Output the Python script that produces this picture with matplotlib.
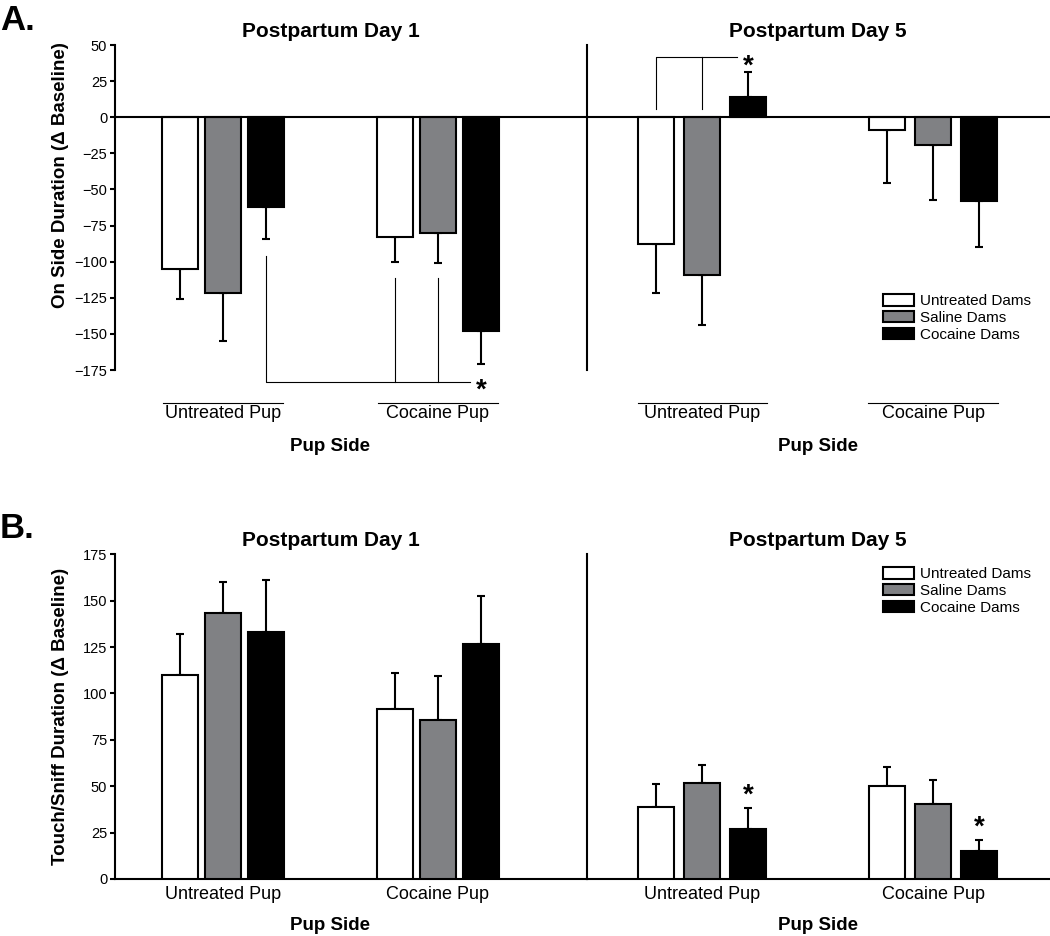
import numpy as np
import matplotlib.pyplot as plt

plt.rcParams['font.family'] = ['Liberation Sans', 'DejaVu Sans']

groups = ['Untreated Pup', 'Cocaine Pup']
dams = ['Untreated Dams', 'Saline Dams', 'Cocaine Dams']
colors = ['white', '#808184', 'black']

# rows = dam group, columns = pup side (untreated, cocaine); mean and SEM
onside_d1 = [[-105, -83], [-122, -80], [-62, -148]]
onside_d1_err = [[21, 17], [33, 21], [22, 23]]
onside_d5 = [[-88, -8.5], [-109, -19.5], [14, -58]]
onside_d5_err = [[34, 37], [35, 37.5], [17, 32]]

touch_d1 = [[110, 91.5], [143.5, 85.5], [133, 126.5]]
touch_d1_err = [[22, 19.5], [16.5, 24], [28, 26]]
touch_d5 = [[39, 50], [51.5, 40.5], [27, 15]]
touch_d5_err = [[12, 10.5], [10, 13], [11.5, 6]]

LW = 1.5
fig = plt.figure(figsize=(10.5, 9.36), dpi=100)


def draw_day(ax, means, errs, width):
    x = np.arange(len(groups))
    bars = []
    for i in range(len(dams)):
        xi = x + (i - 1) * 0.2
        m = np.array(means[i], dtype=float)
        e = np.array(errs[i], dtype=float)
        b = ax.bar(xi, m, width, color=colors[i], edgecolor='black',
                   linewidth=LW, zorder=3, label=dams[i])
        lower = np.where(m < 0, e, 0)
        upper = np.where(m >= 0, e, 0)
        ax.errorbar(xi, m, yerr=[lower, upper], fmt='none', ecolor='black',
                    elinewidth=LW, capsize=3.2, capthick=LW, zorder=2)
        bars.append(b)
    return bars


def star(ax, x, y, fs=20):
    ax.annotate('*', xy=(x, y), xytext=(0, -0.57 * fs), textcoords='offset points',
                ha='center', va='baseline', fontsize=fs, fontweight='bold',
                annotation_clip=False)


def style(ax, ylim, yticks, left_labels, bottom):
    ax.set_ylim(*ylim)
    for s in ['top', 'right']:
        ax.spines[s].set_visible(False)
    ax.spines['bottom'].set_visible(bottom)
    ax.spines['left'].set_linewidth(LW)
    ax.spines['bottom'].set_linewidth(LW)
    if left_labels:
        ax.set_yticks(yticks)
        ax.tick_params(axis='y', length=3.6, width=LW, labelsize=10.5, pad=2)
    else:
        ax.set_yticks([])
    ax.set_xticks(range(len(groups)))
    ax.set_xticklabels(groups, fontsize=13)


# ---------- panel A ----------
axA1 = fig.add_axes([0.1095, 0.6047, 0.4492, 0.3472])
axA5 = fig.add_axes([0.5588, 0.6047, 0.4412, 0.3472])
draw_day(axA1, onside_d1, onside_d1_err, 0.167)
barsA = draw_day(axA5, onside_d5, onside_d5_err, 0.156)
axA1.set_xlim(-0.502, 1.692)
axA5.set_xlim(-0.501, 1.507)
for ax, lab in [(axA1, True), (axA5, False)]:
    style(ax, (-175, 50), range(-175, 51, 25), lab, False)
    ax.axhline(0, color='black', lw=LW, zorder=4)
    ax.tick_params(axis='x', length=0, pad=25.5)
    for c in range(len(groups)):
        ax.plot([c - 0.28, c + 0.28], [-197.8, -197.8], color='black', lw=0.8, clip_on=False)
    ax.text(0.5, 1.0246, 'Postpartum Day ' + ('1' if ax is axA1 else '5'),
            transform=ax.get_xaxis_transform(), ha='center', va='baseline',
            fontsize=15, fontweight='bold')
    ax.text(0.5, -0.248, 'Pup Side', transform=ax.get_xaxis_transform(),
            ha='center', va='baseline', fontsize=13.5, fontweight='bold')

# significance brackets, panel A
axA1.plot([0.2, 0.2, 1.15], [-96, -183.3, -183.3], color='black', lw=0.8, clip_on=False)
axA1.plot([0.8, 0.8], [-111, -183.3], color='black', lw=0.8, clip_on=False)
axA1.plot([1.0, 1.0], [-111, -183.3], color='black', lw=0.8, clip_on=False)
star(axA1, 1.2, -183.5)
axA5.plot([-0.2, -0.2, 0.15], [6, 41.8, 41.8], color='black', lw=0.8, clip_on=False)
axA5.plot([0.0, 0.0], [6, 41.8], color='black', lw=0.8, clip_on=False)
star(axA5, 0.2, 41.3)

axA5.legend(barsA, dams, loc='upper left', bbox_to_anchor=(883 / 1050, 1 - 294 / 936),
            bbox_transform=fig.transFigure, frameon=False, fontsize=11,
            handlelength=2.0, handleheight=0.8, handletextpad=0.45,
            labelspacing=0.17, borderpad=0, borderaxespad=0)

# ---------- panel B ----------
axB1 = fig.add_axes([0.1095, 0.0609, 0.4492, 0.3469])
axB5 = fig.add_axes([0.5588, 0.0609, 0.4412, 0.3469])
draw_day(axB1, touch_d1, touch_d1_err, 0.167)
barsB = draw_day(axB5, touch_d5, touch_d5_err, 0.156)
axB1.set_xlim(-0.502, 1.692)
axB5.set_xlim(-0.501, 1.507)
for ax, lab in [(axB1, True), (axB5, False)]:
    style(ax, (0, 175), range(0, 176, 25), lab, True)
    ax.tick_params(axis='x', length=0, pad=5)
    ax.text(0.5, 1.0256, 'Postpartum Day ' + ('1' if ax is axB1 else '5'),
            transform=ax.get_xaxis_transform(), ha='center', va='baseline',
            fontsize=15, fontweight='bold')
    ax.text(0.5, -0.157, 'Pup Side', transform=ax.get_xaxis_transform(),
            ha='center', va='baseline', fontsize=13.5, fontweight='bold')
star(axB5, 0.2, 49.8)
star(axB5, 1.2, 32.7)

axB5.legend(barsB, dams, loc='upper left', bbox_to_anchor=(883 / 1050, 1 - 567 / 936),
            bbox_transform=fig.transFigure, frameon=False, fontsize=11,
            handlelength=2.0, handleheight=0.8, handletextpad=0.45,
            labelspacing=0.17, borderpad=0, borderaxespad=0)

# panel letters and y labels
fig.text(0.0, 1 - 30 / 936, 'A.', fontsize=25, fontweight='bold', va='baseline')
fig.text(0.0, 1 - 538 / 936, 'B.', fontsize=25, fontweight='bold', va='baseline')
fig.text(61 / 1050, 1 - 175 / 936, 'On Side Duration (\u0394 Baseline)', rotation=90,
         ha='center', va='center', fontsize=13.5, fontweight='bold')
fig.text(61 / 1050, 1 - 716.7 / 936, 'Touch/Sniff Duration (\u0394 Baseline)', rotation=90,
         ha='center', va='center', fontsize=13.5, fontweight='bold')

fig.savefig('out.png', dpi=100)
